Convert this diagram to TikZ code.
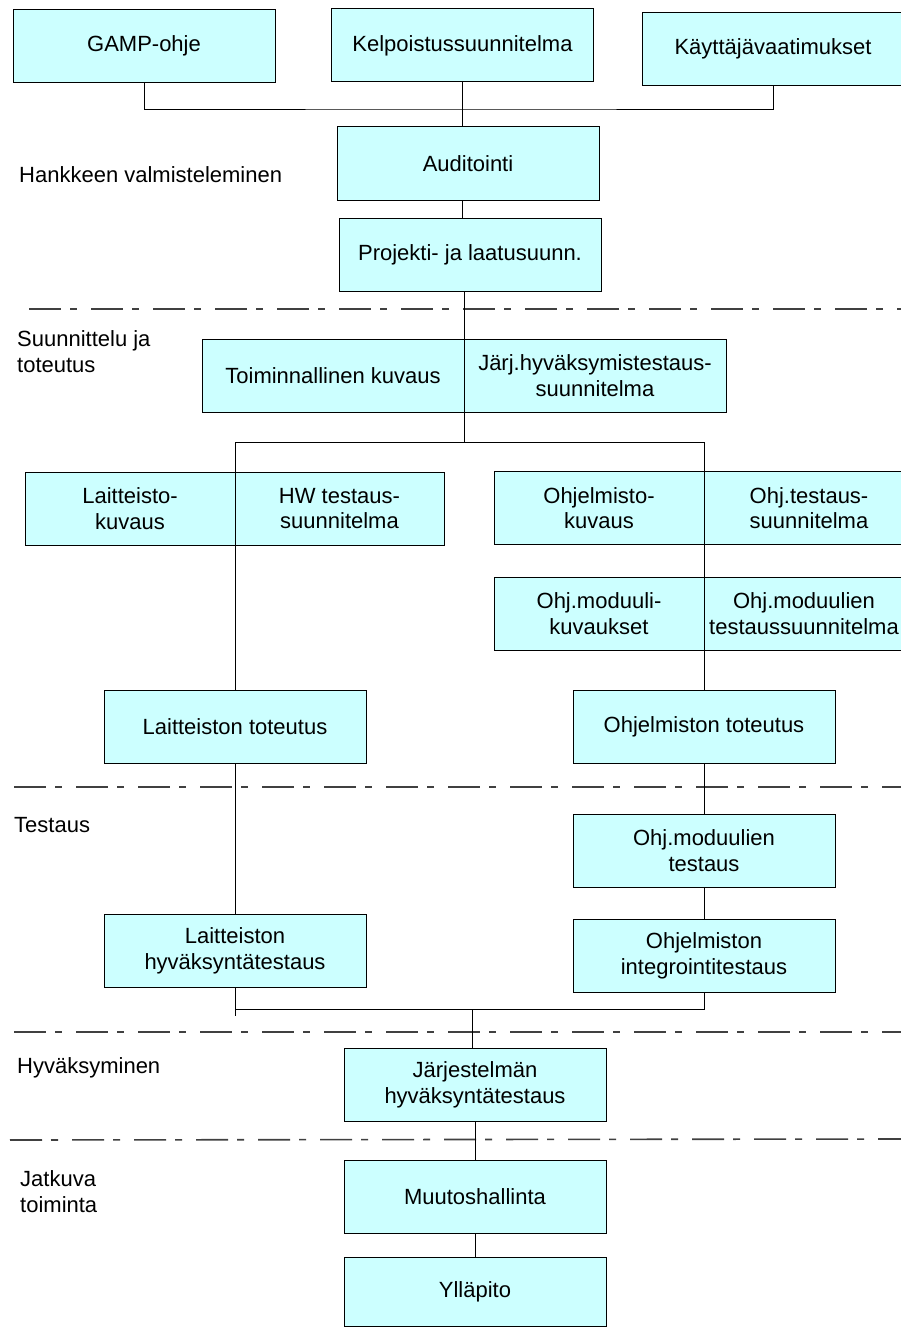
\documentclass[tikz,border=0pt]{standalone}
\usepackage{fontspec}
\setmainfont{Liberation Sans}
\definecolor{boxfill}{HTML}{CCFFFF}
\begin{document}
\begin{tikzpicture}[x=1pt,y=-1pt,
  box/.style={draw=black, line width=1pt, fill=boxfill, anchor=north west, inner sep=0pt, outer sep=0pt,
    align=center, minimum height=73pt, font=\fontsize{22}{25.7}\selectfont},
  wide/.style={box, minimum width=262pt},
  half/.style={box, minimum width=210pt},
  lbl/.style={anchor=west, inner sep=0pt, align=left, font=\fontsize{22}{26.5}\selectfont},
  conn/.style={draw=black, line width=0.9pt},
  sep/.style={draw=black!75, line width=1.6pt, dash pattern=on 32pt off 9pt on 7pt off 14pt}]
\clip (0,0) rectangle (901,1327);
\fill[white] (0,0) rectangle (901,1327);

% separators
\draw[sep] (29,309) -- (901,309);
\draw[sep] (14,787) -- (901,787);
\draw[sep] (14,1032) -- (901,1032);
\draw[sep] (10,1140) -- (901,1139);

% junction points
\coordinate (b1) at (463,109);
\coordinate (b2) at (464,442);
\coordinate (b2l) at (235,442);
\coordinate (b2r) at (704,442);
\coordinate (b3l) at (235,1009.5);
\coordinate (b3r) at (704,1009.5);
\coordinate (b3e) at (235,1016);
\coordinate (b3m) at (472,1009.5);

% boxes
\node[wide] (gamp) at (13,9.5) {GAMP-ohje};
\node[wide] (kelp) at (331.5,9) {Kelpoistussuunnitelma};
\node[wide] (kayt) at (642,12.5) {Käyttäjävaatimukset};
\node[wide] (aud) at (337,127) {Auditointi};
\node[wide] (proj) at (339,218) {Projekti- ja laatusuunn.};
\node[wide] (toim) at (202,339) {Toiminnallinen kuvaus};
\node[wide] (jarj) at (464,339) {Järj.hyväksymistestaus-\\suunnitelma};
\node[half] (lait) at (25,472) {Laitteisto-\\kuvaus};
\node[half, minimum width=209pt] (hw) at (235,472) {HW testaus-\\suunnitelma};
\node[half] (ohjk) at (494,471.5) {Ohjelmisto-\\kuvaus};
\node[half] (ohjt) at (704,471.5) {Ohj.testaus-\\suunnitelma};
\node[half] (ohjm) at (494,577) {Ohj.moduuli-\\kuvaukset};
\node[half, minimum width=200pt] (ohjmt) at (704,577) {Ohj.moduulien\\testaussuunnitelma};
\node[wide] (laitt) at (104,690) {Laitteiston toteutus};
\node[wide] (ohjtot) at (573,690) {Ohjelmiston toteutus};
\node[wide] (ohjmtest) at (573,814) {Ohj.moduulien\\testaus};
\node[wide] (ohjint) at (573,919.5) {Ohjelmiston\\integrointitestaus};
\node[wide] (laith) at (104,914.5) {Laitteiston\\hyväksyntätestaus};
\node[wide] (jarjh) at (344,1048.5) {Järjestelmän\\hyväksyntätestaus};
\node[wide] (muut) at (344,1160) {Muutoshallinta};
\node[wide, minimum height=69pt] (yll) at (344,1257) {Ylläpito};

% connectors
\draw[conn] (gamp.south) |- (b1) -| (kayt.south);
\draw[conn] (kelp.south) -- (kelp.south |- aud.north);
\draw[conn] (aud.south -| kelp.south) -- (proj.north -| kelp.south);
\draw[conn] (proj.south -| toim.north east) -- (toim.north east);
\draw[conn] (toim.south east) -- (b2);
\draw[conn] (b2l) -- (b2r);
\draw[conn] (b2l) -- (b2l |- lait.north);
\draw[conn] (lait.south east) -- (lait.south east |- laitt.north);
\draw[conn] (b2r) -- (b2r |- ohjk.north);
\draw[conn] (ohjk.south east) -- (ohjm.north east);
\draw[conn] (ohjm.south east) -- (ohjm.south east |- ohjtot.north);
\draw[conn] (ohjtot.south) -- (ohjtot.south |- ohjmtest.north);
\draw[conn] (ohjmtest.south) -- (ohjmtest.south |- ohjint.north);
\draw[conn] (laitt.south) -- (laitt.south |- laith.north);
\draw[conn] (laith.south) -- (b3e);
\draw[conn] (b3l) -- (b3r);
\draw[conn] (ohjint.south -| b3r) -- (b3r);
\draw[conn] (b3m) -- (b3m |- jarjh.north);
\draw[conn] (jarjh.south) -- (muut.north);
\draw[conn] (muut.south) -- (yll.north);

% phase labels
\node[lbl] (l1) at (19,175) {Hankkeen valmisteleminen};
\node[lbl] (l2) at (17,351.5) {Suunnittelu ja\\toteutus};
\node[lbl] (l3) at (14,825) {Testaus};
\node[lbl] (l4) at (17,1068) {Hyväksyminen};
\node[lbl] (l5) at (20,1191.5) {Jatkuva\\toiminta};
\end{tikzpicture}
\end{document}
